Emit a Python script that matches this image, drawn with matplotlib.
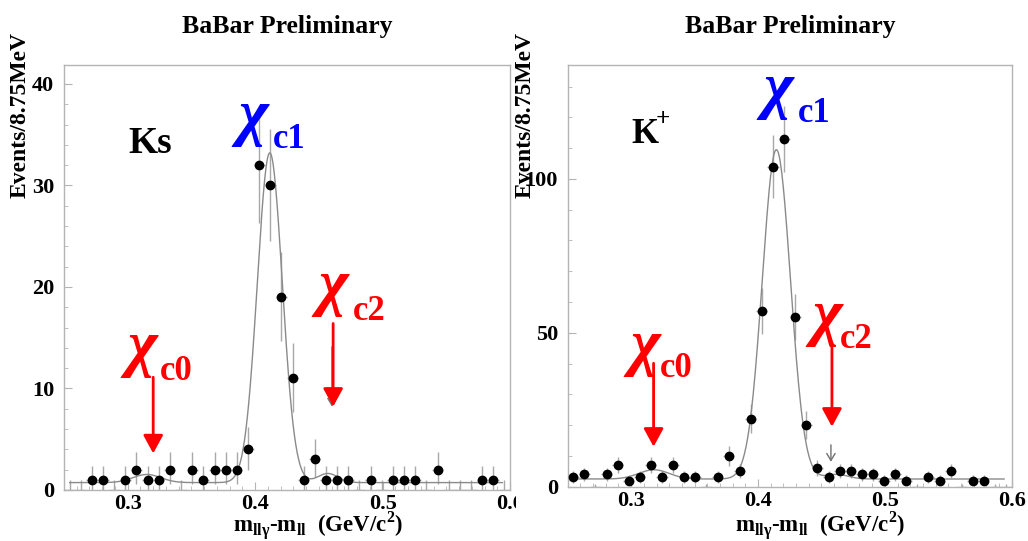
import numpy as np
import matplotlib
matplotlib.use('Agg')
import matplotlib.pyplot as plt
from matplotlib.transforms import Bbox, TransformedBbox

plt.rcParams['font.family'] = ['Liberation Serif', 'DejaVu Serif']
plt.rcParams['font.weight'] = 'bold'

W, H = 1028, 541

# histogram binning: 40 bins of 8.75 MeV between 0.25 and 0.6 GeV
x_min, x_max, n_bins = 0.25, 0.6, 40
edges = np.linspace(x_min, x_max, n_bins + 1)
centers = 0.5 * (edges[:-1] + edges[1:])
half_bin = 0.5 * (edges[1] - edges[0])

# events per bin
ks_counts = [0, 0, 1, 1, 0, 1, 2, 1, 1, 2, 0, 2, 1, 2, 2, 2, 4, 32, 30, 19,
             11, 1, 3, 1, 1, 1, 0, 1, 0, 1, 1, 1, 0, 2, 0, 0, 0, 1, 1, 0]
kp_counts = [3, 4, 0, 4, 7, 2, 3, 7, 3, 7, 3, 3, 0, 3, 10, 5, 22, 57, 104, 113,
             55, 20, 6, 3, 5, 5, 4, 4, 2, 4, 2, 0, 3, 2, 5, 0, 2, 2, 0, 0]

# fit curves: flat background + gaussians (mean, height, sigma)
ks_bkg = 0.72
ks_peaks = [(0.315, 0.8, 0.011), (0.4115, 32.5, 0.0098), (0.457, 0.9, 0.008)]
kp_bkg = 2.5
kp_peaks = [(0.318, 3.0, 0.012), (0.4145, 107.0, 0.0111), (0.462, 1.5, 0.009)]
fit_range = (0.2545, 0.594)

# arrow positions (x, y_from, y_to) in data units
ks_red_arrows = [(0.320, 11.1, 3.6), (0.4612, 16.4, 8.2)]
ks_gray_arrow = (0.4603, 14.1, 8.2)
kp_red_arrows = [(0.3177, 40.1, 13.0), (0.4583, 46.1, 19.5)]
kp_gray_arrow = (0.4575, 13.6, 8.1)

frame_col = '#b4b4b4'
err_col = '#a8a8a8'
fit_col = '#8a8a8a'


def px(x, y):
    return x / W, 1 - y / H


fig = plt.figure(figsize=(W / 100, H / 100), dpi=100)
ax1 = fig.add_axes([64 / W, 1 - 489.9 / H, 446 / W, 425.2 / H])
ax2 = fig.add_axes([567.7 / W, 1 - 486.7 / H, 444 / W, 422 / H])


def draw_panel(ax, counts, bkg, peaks, ymax, major, minor, red_arrows, gray_arrow):
    counts = np.array(counts, dtype=float)
    lo = np.sqrt(counts)
    hi = np.sqrt(counts + 0.9)
    ax.errorbar(centers, counts, xerr=half_bin, yerr=[lo, hi], fmt='none',
                ecolor=err_col, elinewidth=1, capsize=0, zorder=2)
    nz = counts > 0
    ax.plot(centers[nz], counts[nz], 'o', color='black', ms=6, zorder=3)

    xs = np.linspace(fit_range[0], fit_range[1], 600)
    ys = bkg + sum(a * np.exp(-0.5 * ((xs - m) / s) ** 2) for m, a, s in peaks)
    ax.plot(xs, ys, color=fit_col, lw=1, zorder=2)

    gx, gy0, gy1 = gray_arrow
    ax.annotate('', xy=(gx, gy1), xytext=(gx, gy0),
                arrowprops=dict(arrowstyle='->,head_length=0.5,head_width=0.3',
                                color='#707070', lw=1, shrinkA=0, shrinkB=0))
    for x, y0, y1 in red_arrows:
        ax.annotate('', xy=(x, y1), xytext=(x, y0),
                    arrowprops=dict(arrowstyle='-|>,head_length=1.1,head_width=0.6',
                                    color='red', lw=2, shrinkA=0, shrinkB=0),
                    zorder=4)

    ax.set_xlim(x_min, x_max)
    ax.set_ylim(0, ymax)
    ax.set_xticks([0.3, 0.4, 0.5, 0.6], ['0.3', '0.4', '0.5', '0.6'])
    ax.set_xticks(np.arange(0.25, 0.6001, 0.01), minor=True)
    ax.set_yticks(np.arange(0, ymax, major))
    ax.set_yticks(np.arange(0, ymax, minor), minor=True)
    ax.tick_params(which='both', direction='in', color=frame_col, top=False, right=False,
                   labelsize=16)
    ax.tick_params(axis='x', pad=3)
    ax.tick_params(axis='y', pad=7)
    ax.tick_params(which='major', length=6)
    ax.tick_params(which='minor', length=3)
    for sp in ax.spines.values():
        sp.set_color(frame_col)
        sp.set_linewidth(1)


draw_panel(ax1, ks_counts, ks_bkg, ks_peaks, 41.9, 10, 2, ks_red_arrows, ks_gray_arrow)
draw_panel(ax2, kp_counts, kp_bkg, kp_peaks, 137.1, 50, 10, kp_red_arrows, kp_gray_arrow)

# left panel's 0.6 label is cut off by the right picture
lab = ax1.xaxis.get_major_ticks()[3].label1
lab.set_clip_box(TransformedBbox(Bbox([[0, 0], [516 / W, 1]]), fig.transFigure))
lab.set_clip_on(True)

xlabel = r'm$_{\mathregular{ll\gamma}}$-m$_{\mathregular{ll}}$  (GeV/c$^{\mathregular{2}}$)'
for cx, ylx in [(287, 20), (790, 525)]:
    fig.text(*px(cx, 33), 'BaBar Preliminary', ha='center', va='baseline', fontsize=18.5)
    fig.text(*px(ylx, 32), 'Events/8.75MeV', rotation=90, ha='center', va='top', fontsize=17)
for cx in [318, 820]:
    fig.text(*px(cx, 532), xlabel, ha='center', va='baseline', fontsize=16.5)

# channel labels
fig.text(*px(128, 153), 'Ks', ha='left', va='baseline', fontsize=27)
fig.text(*px(631, 143), 'K', ha='left', va='baseline', fontsize=25)
fig.text(*px(656, 126), '+', ha='left', va='baseline', fontsize=18)

# chi_c labels: (chi left, chi bottom, sub left, sub baseline, sub text, colour)
chi_labels = [
    (238, 147, 273, 148, 'c1', 'blue'),
    (127, 378, 160, 380, 'c0', 'red'),
    (318, 317, 353, 320, 'c2', 'red'),
    (763, 120, 798, 122, 'c1', 'blue'),
    (630, 377, 660, 377, 'c0', 'red'),
    (812, 347, 840, 348, 'c2', 'red'),
]
for chx, chy, sx, sy, sub, col in chi_labels:
    fig.text(*px(chx, chy), '\u03c7', ha='left', va='bottom', fontsize=46,
             style='italic', weight='bold', color=col)
    fig.text(*px(sx, sy), sub, ha='left', va='baseline', fontsize=25, color=col)

fig.savefig('out.png', dpi=100)
